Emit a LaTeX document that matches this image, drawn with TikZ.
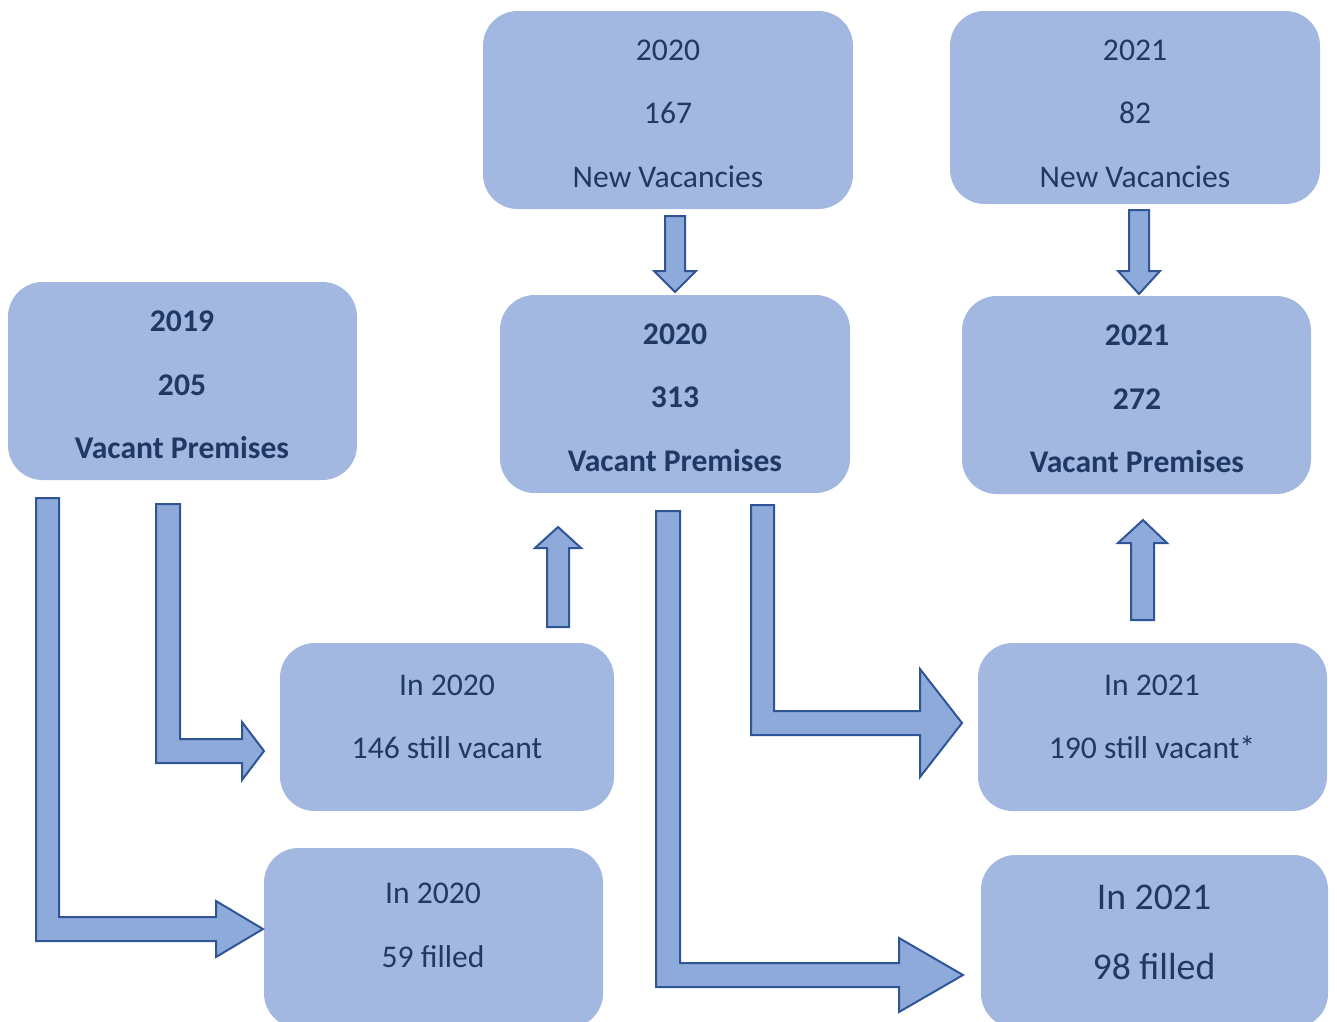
\documentclass[tikz,border=0pt]{standalone}
\usepackage{fontspec}
\setmainfont{Carlito}
\usetikzlibrary{fit}
\definecolor{boxfill}{HTML}{A2B8E0}
\definecolor{arrowfill}{HTML}{8EAADB}
\definecolor{arrowline}{HTML}{2F5597}
\definecolor{ink}{HTML}{1F3864}
\tikzset{
  panel/.style={fill=boxfill, draw=none, rounded corners=26pt, inner sep=0pt},
  lbl/.style={text=ink, anchor=base, inner sep=0pt, font=\fontsize{23.7}{28}\selectfont},
  biglbl/.style={lbl, font=\fontsize{28.3}{33}\selectfont},
  blockarrow/.style={fill=arrowfill, draw=arrowline, line width=1.5pt, line join=miter}
}
\begin{document}
\begin{tikzpicture}[x=0.75pt,y=-0.75pt]
\useasboundingbox (0,0) rectangle (1337,1021);

% rounded panels
\node[panel, fit={(8,282) (357,480)}] (v2019) {};
\node[panel, fit={(483,11) (853,209)}] (n2020) {};
\node[panel, fit={(950,11) (1320,204)}] (n2021) {};
\node[panel, fit={(500,295) (850,493)}] (v2020) {};
\node[panel, fit={(962,296) (1311,494)}] (v2021) {};
\node[panel, fit={(280,643) (614,811)}] (s2020) {};
\node[panel, fit={(264,848) (603,1028)}] (f2020) {};
\node[panel, fit={(978,643) (1327,811)}] (s2021) {};
\node[panel, fit={(981,855) (1328,1028)}] (f2021) {};

% panel texts
\node[lbl] (v2019a) at (182,331) {\textbf{2019}};
\node[lbl] (v2019b) at (182,395) {\textbf{205}};
\node[lbl] (v2019c) at (182,458) {\textbf{Vacant Premises}};

\node[lbl] (n2020a) at (668,60) {2020};
\node[lbl] (n2020b) at (668,123) {167};
\node[lbl] (n2020c) at (668,187) {New Vacancies};

\node[lbl] (n2021a) at (1135,60) {2021};
\node[lbl] (n2021b) at (1135,123) {82};
\node[lbl] (n2021c) at (1135,187) {New Vacancies};

\node[lbl] (v2020a) at (675,344) {\textbf{2020}};
\node[lbl] (v2020b) at (675,407) {\textbf{313}};
\node[lbl] (v2020c) at (675,471) {\textbf{Vacant Premises}};

\node[lbl] (v2021a) at (1137,345) {\textbf{2021}};
\node[lbl] (v2021b) at (1137,409) {\textbf{272}};
\node[lbl] (v2021c) at (1137,472) {\textbf{Vacant Premises}};

\node[lbl] (s2020a) at (447,695) {In 2020};
\node[lbl] (s2020b) at (447,758) {146 still vacant};

\node[lbl] (f2020a) at (433,903) {In 2020};
\node[lbl] (f2020b) at (433,967) {59 filled};

\node[lbl] (s2021a) at (1152,695) {In 2021};
\node[lbl] (s2021b) at (1152,758) {190 still vacant*};

\node[biglbl] (f2021a) at (1154,909) {In 2021};
\node[biglbl] (f2021b) at (1154,979) {98 filled};

% block arrows
\draw[blockarrow] (36,498) -- (59,498) -- (59,917) -- (216,917) -- (216,901)
  -- (263,929) -- (216,957) -- (216,941) -- (36,941) -- cycle;
\draw[blockarrow] (156,504) -- (180,504) -- (180,739) -- (242,739) -- (242,722)
  -- (264,751) -- (242,780) -- (242,763) -- (156,763) -- cycle;
\draw[blockarrow] (656,511) -- (680,511) -- (680,963) -- (899,963) -- (899,938)
  -- (963,975) -- (899,1012) -- (899,987) -- (656,987) -- cycle;
\draw[blockarrow] (751,505) -- (774,505) -- (774,711) -- (920,711) -- (920,669)
  -- (962,723) -- (920,777) -- (920,735) -- (751,735) -- cycle;
\draw[blockarrow] (665,216) -- (685,216) -- (685,271) -- (696,271) -- (675,292)
  -- (654,271) -- (665,271) -- cycle;
\draw[blockarrow] (1129,210) -- (1149,210) -- (1149,271) -- (1160,271) -- (1139,294)
  -- (1118,271) -- (1129,271) -- cycle;
\draw[blockarrow] (547,627) -- (569,627) -- (569,548) -- (581,548) -- (558,527)
  -- (535,548) -- (547,548) -- cycle;
\draw[blockarrow] (1131,620) -- (1154,620) -- (1154,543) -- (1167,543) -- (1143,520)
  -- (1118,543) -- (1131,543) -- cycle;
\end{tikzpicture}
\end{document}
